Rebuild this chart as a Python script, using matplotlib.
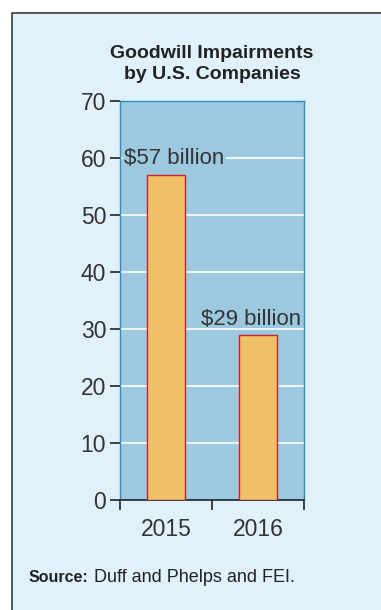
import matplotlib.pyplot as plt
from matplotlib.patches import Rectangle

# data
years = ["2015", "2016"]
values = [57, 29]
labels = ["$57 billion", "$29 billion"]
yticks = [0, 10, 20, 30, 40, 50, 60, 70]

box_bg = "#e0f1fb"
ax_bg = "#9dc9e0"
bar_color = "#f0c068"
bar_edge = "#c8202a"
spine_color = "#2a8fc0"
text_color = "#333333"

plt.rcParams["font.family"] = ["Liberation Sans", "DejaVu Sans"]

fig = plt.figure(figsize=(3.81, 6.10), dpi=100)
fig.patch.set_facecolor("white")

# outer panel with dark border (runs off right/bottom edge)
fig.patches.append(Rectangle((12 / 381, -0.05), 1.2, 1 - 13 / 610 + 0.05,
                             transform=fig.transFigure, facecolor=box_bg,
                             edgecolor="#3a3a3a", linewidth=1.2, zorder=-5))

ax = fig.add_axes([120 / 381, 110 / 610, 184 / 381, 399 / 610])
ax.set_facecolor(ax_bg)

x = list(range(len(years)))
ax.bar(x, values, width=0.41, color=bar_color, edgecolor=bar_edge, linewidth=1.0, zorder=3)

ax.set_xlim(-0.5, 1.5)
ax.set_ylim(0, 70)
ax.set_yticks(yticks)
ax.set_yticklabels([str(v) for v in yticks], fontsize=16.5, color=text_color)
ax.set_xticks(x)
ax.set_xticklabels(years, fontsize=16.5, color=text_color)
ax.tick_params(axis="x", which="major", length=0, pad=13)
ax.set_xticks([-0.5, 0.5, 1.5], minor=True)
ax.tick_params(axis="x", which="minor", length=7, width=1.2, color="#222222")
ax.tick_params(axis="y", length=7, width=1.2, color="#222222", pad=3)

ax.set_axisbelow(True)
for v in yticks[1:-1]:
    ax.axhline(v, color="white", linewidth=1.2, zorder=1)

for s in ["top", "right", "left"]:
    ax.spines[s].set_color(spine_color)
    ax.spines[s].set_linewidth(1.0)
ax.spines["bottom"].set_color("#222222")
ax.spines["bottom"].set_linewidth(1.2)

# value labels
ax.text(-0.455, 60, labels[0], ha="left", va="center", fontsize=16, color=text_color,
        zorder=5, bbox=dict(facecolor=ax_bg, edgecolor="none", pad=1))
ax.text(0.925, 31.7, labels[1], ha="center", va="center", fontsize=16, color=text_color,
        zorder=5)

fig.text(212 / 381, 1 - 64 / 610, "Goodwill Impairments\nby U.S. Companies",
         ha="center", va="center", fontsize=14, fontweight="bold", color="#222222",
         linespacing=1.35)

fig.text(29 / 381, 1 - 577 / 610, "Source:", ha="left", va="center",
         fontsize=11.5, fontweight="bold", color="#222222")
fig.text(94 / 381, 1 - 577 / 610, "Duff and Phelps and FEI.", ha="left", va="center",
         fontsize=13, color="#222222")

fig.savefig("out.png", dpi=100)
